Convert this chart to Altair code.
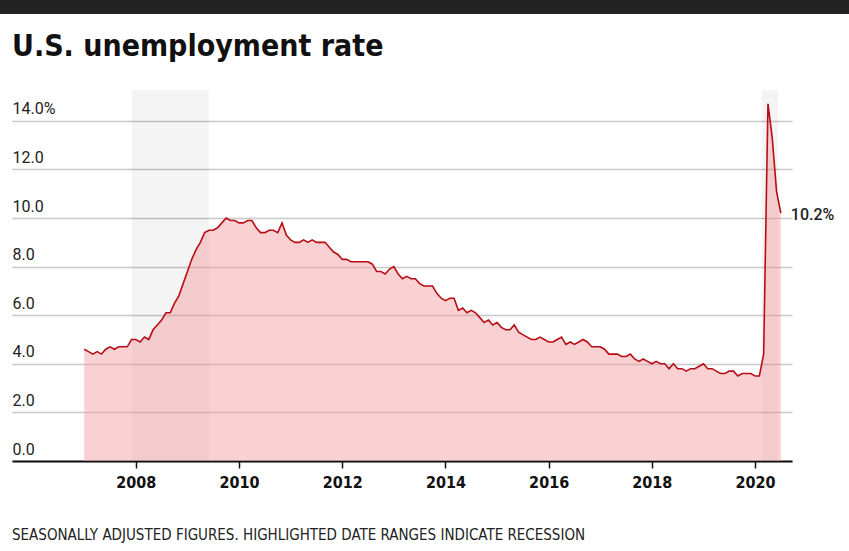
import altair as alt
import pandas as pd

years = list(range(2007, 2021))
rates_2007 = [4.6, 4.5, 4.4, 4.5, 4.4, 4.6, 4.7, 4.6, 4.7, 4.7, 4.7, 5.0]
rates_2008 = [5.0, 4.9, 5.1, 5.0, 5.4, 5.6, 5.8, 6.1, 6.1, 6.5, 6.8, 7.3]
rates_2009 = [7.8, 8.3, 8.7, 9.0, 9.4, 9.5, 9.5, 9.6, 9.8, 10.0, 9.9, 9.9]
rates_2010 = [9.8, 9.8, 9.9, 9.9, 9.6, 9.4, 9.4, 9.5, 9.5, 9.4, 9.8, 9.3]
rates_2011 = [9.1, 9.0, 9.0, 9.1, 9.0, 9.1, 9.0, 9.0, 9.0, 8.8, 8.6, 8.5]
rates_2012 = [8.3, 8.3, 8.2, 8.2, 8.2, 8.2, 8.2, 8.1, 7.8, 7.8, 7.7, 7.9]
rates_2013 = [8.0, 7.7, 7.5, 7.6, 7.5, 7.5, 7.3, 7.2, 7.2, 7.2, 6.9, 6.7]
rates_2014 = [6.6, 6.7, 6.7, 6.2, 6.3, 6.1, 6.2, 6.1, 5.9, 5.7, 5.8, 5.6]
rates_2015 = [5.7, 5.5, 5.4, 5.4, 5.6, 5.3, 5.2, 5.1, 5.0, 5.0, 5.1, 5.0]
rates_2016 = [4.9, 4.9, 5.0, 5.1, 4.8, 4.9, 4.8, 4.9, 5.0, 4.9, 4.7, 4.7]
rates_2017 = [4.7, 4.6, 4.4, 4.4, 4.4, 4.3, 4.3, 4.4, 4.2, 4.1, 4.2, 4.1]
rates_2018 = [4.0, 4.1, 4.0, 4.0, 3.8, 4.0, 3.8, 3.8, 3.7, 3.8, 3.8, 3.9]
rates_2019 = [4.0, 3.8, 3.8, 3.7, 3.6, 3.6, 3.7, 3.7, 3.5, 3.6, 3.6, 3.6]
rates_2020 = [3.5, 3.5, 4.4, 14.7, 13.3, 11.1, 10.2]

all_rates = [rates_2007, rates_2008, rates_2009, rates_2010, rates_2011, rates_2012,
             rates_2013, rates_2014, rates_2015, rates_2016, rates_2017, rates_2018,
             rates_2019, rates_2020]

recession_start = [2007.917, 2020.13]
recession_end = [2009.417, 2020.45]

x_ticks = [2008, 2010, 2012, 2014, 2016, 2018, 2020]
y_ticks = [0, 2, 4, 6, 8, 10, 12, 14]

rows = []
for yr, vals in zip(years, all_rates):
    for m, v in enumerate(vals):
        rows.append({"t": yr + m / 12.0, "rate": v})
df = pd.DataFrame(rows)
last = df.iloc[[-1]].copy()
last["label"] = "10.2%"

rec = pd.DataFrame({"start": recession_start, "end": recession_end})

XDOM = [2005.6, 2020.716]
YDOM = [0, 15.27]

xscale = alt.Scale(domain=XDOM, nice=False, zero=False)
yscale = alt.Scale(domain=YDOM, nice=False)

FONT = "Roboto, sans-serif"
COND = "DejaVu Sans Condensed, Liberation Sans Narrow, Roboto Condensed, Roboto, sans-serif"

x_axis = alt.Axis(values=x_ticks, format="d", title=None, grid=False,
                  domainColor="#111", domainWidth=2, tickColor="#111", tickWidth=1.5,
                  tickSize=7, labelPadding=6, labelFont=COND, labelFontWeight="bold",
                  labelFontSize=16, labelColor="#111")
y_axis = alt.Axis(values=y_ticks, title=None, domain=False, ticks=False, tickSize=0,
                  labelAlign="left", labelPadding=0, labelBaseline="alphabetic",
                  labelOffset=-7, labelFont=FONT, labelFontSize=16, labelColor="#222",
                  labelExpr="datum.value == 14 ? '14.0%' : format(datum.value, '.1f')",
                  gridColor="#c8c8c8", gridWidth=1.5)

bands = alt.Chart(rec).mark_rect(color="#000", opacity=0.045).encode(
    x=alt.X("start:Q", scale=xscale, axis=x_axis),
    x2="end:Q",
)

area = alt.Chart(df).mark_area(color="#f1989e", opacity=0.45).encode(
    x=alt.X("t:Q", scale=xscale, axis=x_axis),
    y=alt.Y("rate:Q", scale=yscale, axis=y_axis),
)

line = alt.Chart(df).mark_line(color="#b80d15", strokeWidth=1.6).encode(
    x=alt.X("t:Q", scale=xscale),
    y=alt.Y("rate:Q", scale=yscale),
)

end_label = alt.Chart(last).mark_text(align="left", baseline="middle", dx=10, dy=2,
                                      font=FONT, fontSize=16, fontWeight=500,
                                      color="#222").encode(
    x=alt.X("t:Q", scale=xscale),
    y=alt.Y("rate:Q", scale=yscale),
    text="label:N",
)

deco = pd.DataFrame({"title": ["U.S. unemployment rate"],
                     "note": ["SEASONALLY ADJUSTED FIGURES. HIGHLIGHTED DATE RANGES INDICATE RECESSION"]})

topbar = alt.Chart(deco).mark_rect(color="#222").encode(
    x=alt.value(-12), x2=alt.value(837), y=alt.value(-90), y2=alt.value(-76))

title = alt.Chart(deco).mark_text(align="left", baseline="alphabetic", font=COND,
                                  fontWeight="bold", fontSize=30, color="#111").encode(
    x=alt.value(0), y=alt.value(-34), text="title:N")

note = alt.Chart(deco).mark_text(align="left", baseline="middle", font=COND,
                                 fontSize=15, color="#222").encode(
    x=alt.value(0), y=alt.value(445), text="note:N")

chart = alt.layer(bands, area, line, end_label, topbar, title, note).properties(
    width=780, height=371,
    autosize=alt.AutoSizeParams(type="none"),
    padding={"left": 12, "top": 90, "right": 57, "bottom": 90},
    background="white",
).configure_view(stroke=None).configure_axisY(zindex=0)

chart.save("out.html", embed_options={"renderer": "svg", "actions": False})
